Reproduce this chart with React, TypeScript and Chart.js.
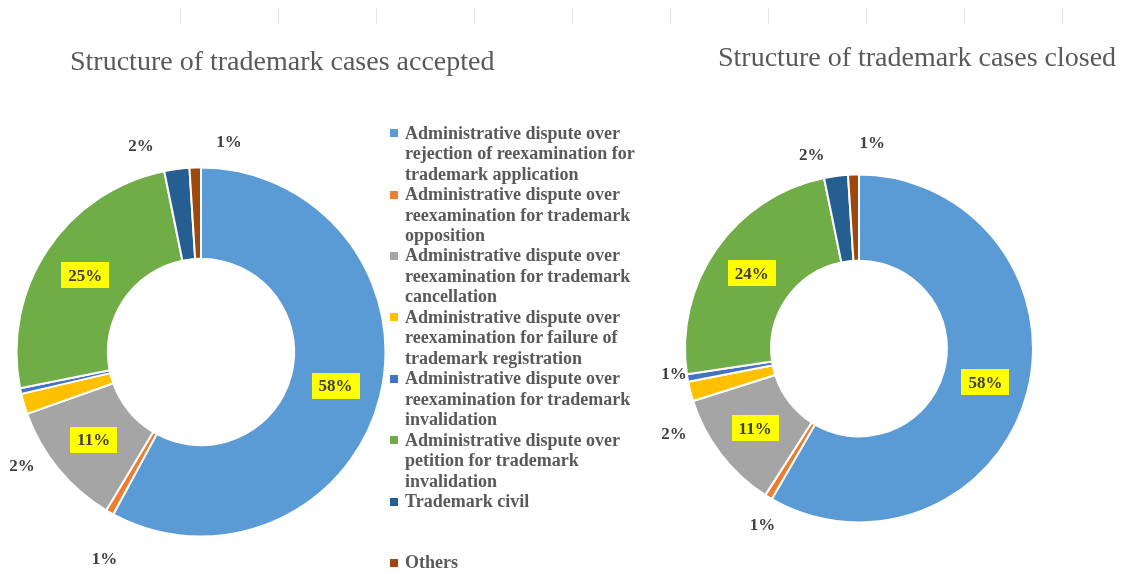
import React, { useEffect, useRef } from "react";
import { Chart, registerables } from "chart.js";

Chart.register(...registerables);

// ---- data ----
const categories = [
  "Administrative dispute over rejection of reexamination for trademark application",
  "Administrative dispute over reexamination for trademark opposition",
  "Administrative dispute over reexamination for trademark cancellation",
  "Administrative dispute over reexamination for failure of trademark registration",
  "Administrative dispute over reexamination for trademark invalidation",
  "Administrative dispute over petition for trademark invalidation",
  "Trademark civil",
  "Others",
];
const acceptedValues = [58, 0.7, 11, 1.8, 0.5, 25, 2.2, 1];
const closedValues = [58, 0.7, 11, 1.8, 0.7, 24, 2.2, 1];
const acceptedTitle = "Structure of trademark cases accepted";
const closedTitle = "Structure of trademark cases closed";

// ---- styles ----
const colors = ["#5B9BD5", "#ED7D31", "#A5A5A5", "#FFC000", "#4472C4", "#70AD47", "#255E91", "#9E480E"];
const SERIF = "'Liberation Serif', 'Times New Roman', serif";

// label layout: mode, angular nudge (deg, clockwise), distance factor for outside labels
const acceptedLabelLayout = {
  mode: ["in", "out", "in", "out", "none", "in", "out", "out"],
  nudge: [0, -4.6, 0, -16, 0, 0, -8.7, 9.4],
  dist: [0, 1.236, 0, 1.149, 0, 0, 1.163, 1.149],
};
const closedLabelLayout = {
  mode: ["in", "out", "in", "out", "out", "in", "out", "out"],
  nudge: [0, -2.6, 0, -10.5, 2, 0, -6.1, 5.5],
  dist: [0, 1.155, 0, 1.171, 1.073, 0, 1.149, 1.186],
};

const sliceLabelPlugin = {
  id: "sliceLabels",
  afterDatasetsDraw(chart: any, _args: any, opts: any) {
    const { ctx } = chart;
    const meta = chart.getDatasetMeta(0);
    const data = chart.data.datasets[0].data as number[];
    const total = data.reduce((a: number, b: number) => a + b, 0);
    ctx.save();
    ctx.font = `bold 17px ${SERIF}`;
    ctx.textAlign = "center";
    ctx.textBaseline = "middle";
    meta.data.forEach((arc: any, i: number) => {
      const mode = opts.mode[i];
      if (mode === "none") return;
      const p = arc.getProps(["x", "y", "startAngle", "endAngle", "innerRadius", "outerRadius"], true);
      const ang = (p.startAngle + p.endAngle) / 2 + (opts.nudge[i] * Math.PI) / 180;
      const r = mode === "in" ? (p.innerRadius + p.outerRadius) / 2 : p.outerRadius * opts.dist[i];
      const x = p.x + r * Math.cos(ang);
      const y = p.y + r * Math.sin(ang);
      const text = Math.round((data[i] / total) * 100) + "%";
      if (mode === "in") {
        const w = ctx.measureText(text).width + 14;
        const h = 26;
        ctx.fillStyle = "#FFFF00";
        ctx.fillRect(Math.round(x - w / 2), Math.round(y - h / 2), Math.round(w), h);
      }
      ctx.fillStyle = "#404040";
      ctx.fillText(text, x, y + 1);
    });
    ctx.restore();
  },
};

function Donut({ values, layout, padding }: { values: number[]; layout: any; padding: any }) {
  const ref = useRef<HTMLCanvasElement | null>(null);
  useEffect(() => {
    if (!ref.current) return;
    const chart = new Chart(ref.current, {
      type: "doughnut",
      data: {
        labels: categories,
        datasets: [
          {
            data: values,
            backgroundColor: colors,
            borderColor: "#ffffff",
            borderWidth: 2,
          },
        ],
      },
      options: {
        responsive: false,
        animation: false,
        devicePixelRatio: 1,
        cutout: "50.5%",
        events: [],
        layout: { padding },
        plugins: {
          legend: { display: false },
          title: { display: false },
          tooltip: { enabled: false },
          sliceLabels: layout,
        } as any,
      },
      plugins: [sliceLabelPlugin as any],
    });
    return () => chart.destroy();
  }, []);
  return (
    <canvas
      ref={ref}
      width={1126}
      height={574}
      style={{ position: "absolute", left: 0, top: 0, width: 1126, height: 574 }}
    />
  );
}

export default function App() {
  const gridXs = [180, 278, 376, 474, 572, 670, 768, 866, 964, 1062];
  return (
    <div
      style={{
        position: "absolute",
        left: 0,
        top: 0,
        width: 1126,
        height: 574,
        background: "#ffffff",
        overflow: "hidden",
        fontFamily: SERIF,
      }}
    >
      {gridXs.map((x) => (
        <div
          key={x}
          style={{ position: "absolute", left: x, top: 8, width: 1, height: 16, background: "#e4e4e4" }}
        />
      ))}
      <Donut
        values={acceptedValues}
        layout={acceptedLabelLayout}
        padding={{ left: 15.5, top: 166.5, right: 739.5, bottom: 36.5 }}
      />
      <Donut
        values={closedValues}
        layout={closedLabelLayout}
        padding={{ left: 684, top: 173.5, right: 92, bottom: 50.5 }}
      />
      <div
        style={{
          position: "absolute",
          left: 70,
          top: 47,
          fontSize: 28,
          lineHeight: "28px",
          color: "#595959",
          whiteSpace: "nowrap",
        }}
      >
        {acceptedTitle}
      </div>
      <div
        style={{
          position: "absolute",
          left: 718,
          top: 43,
          fontSize: 28,
          lineHeight: "28px",
          color: "#595959",
          whiteSpace: "nowrap",
        }}
      >
        {closedTitle}
      </div>
      <div style={{ position: "absolute", left: 390, top: 122.7, width: 260 }}>
        {categories.map((c, i) => (
          <div key={c} style={{ position: "relative", height: 61.4 }}>
            <div
              style={{
                position: "absolute",
                left: 0,
                top: 6.5,
                width: 8,
                height: 8,
                background: colors[i],
              }}
            />
            <div
              style={{
                position: "absolute",
                left: 15,
                top: 0,
                width: 245,
                fontSize: 18,
                fontWeight: "bold",
                lineHeight: "20.47px",
                color: "#595959",
              }}
            >
              {c}
            </div>
          </div>
        ))}
      </div>
    </div>
  );
}
